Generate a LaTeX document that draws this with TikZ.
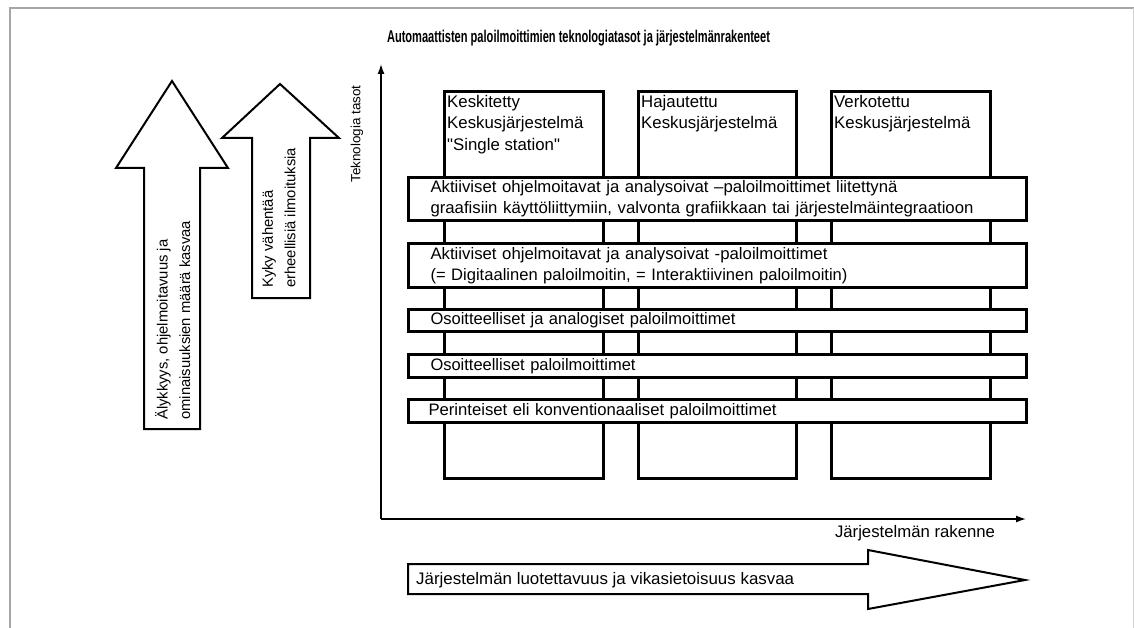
\documentclass[tikz,border=0pt]{standalone}
\usepackage{fontspec}
\setmainfont{Liberation Sans}
% a second family without TeX ligatures, so that " stays a straight quote
\newfontfamily\plainsans{Liberation Sans}
\usetikzlibrary{arrows.meta}

% set a line of text to a given width, keeping its height
\newcommand\fitline[2]{\resizebox{#1}{\height}{#2}}

\begin{document}
\begin{tikzpicture}[x=1pt,y=-1pt,
  heavy/.style={draw=black, line width=3pt, fill=white},
  colbox/.style={heavy, rectangle, inner sep=0pt, anchor=north west, minimum height=387pt},
  headtext/.style={anchor=north west, inner sep=0pt, align=left, font=\plainsans\fontsize{16.8}{21.5}\selectfont},
  barbox/.style={heavy, rectangle, anchor=north west, inner xsep=22pt, inner ysep=0pt,
                 text width=574pt, align=left, font=\fontsize{16.6}{21}\selectfont},
  axis/.style={draw=black, line width=1.4pt, -{Latex[length=10pt,width=7pt]}},
  bigarrow/.style={draw=black, line width=2pt, fill=white, line join=miter},
  arrowtext/.style={inner sep=0pt, align=left, font=\fontsize{14.8}{22.5}\selectfont},
  label/.style={inner sep=0pt, font=\fontsize{16.7}{20}\selectfont}]

\useasboundingbox (0,0) rectangle (1134,628);

% outer frame
\draw[gray!70, line width=1.5pt] (10,628) -- (10,8) -- (1134,8);
\draw[gray!35, line width=1pt] (1133,8) -- (1133,628);

% title
\node[anchor=base, inner sep=0pt, font=\bfseries\fontsize{17}{19}\selectfont] (title) at (578.5,43)
  {\fitline{383pt}{Automaattisten paloilmoittimien teknologiatasot ja järjestelmänrakenteet}};

% axes
\coordinate (org) at (381,519);
\coordinate (ytip) at (381,64);
\coordinate (xtip) at (1026,519);
\draw[axis] (org) -- (ytip);
\draw[axis] (org) -- (xtip);
\node[inner sep=0pt, rotate=90, font=\fontsize{13.3}{16}\selectfont] (ylab) at (357,134) {\fitline{97pt}{Teknologia tasot}};
\node[label] (xlab) at (915,533) {\fitline{160pt}{Järjestelmän rakenne}};

% system structure columns
\node[colbox, minimum width=159pt] (c1) at (443,90) {};
\node[colbox, minimum width=158pt] (c2) at (637,90) {};
\node[colbox, minimum width=159pt] (c3) at (830,90) {};
\node[headtext] (h1) at (447,95) {Keskitetty\\Keskusjärjestelmä\\"Single station"};
\node[headtext] (h2) at (641,95) {Hajautettu\\Keskusjärjestelmä};
\node[headtext] (h3) at (834,95) {Verkotettu\\Keskusjärjestelmä};

% technology level bars
\node[barbox, minimum height=43pt] (b1) at (407,176)
  {\fitline{467pt}{Aktiiviset ohjelmoitavat ja analysoivat –paloilmoittimet liitettynä}\\
   \fitline{543pt}{graafisiin käyttöliittymiin, valvonta grafiikkaan tai järjestelmäintegraatioon}};
\node[barbox, minimum height=44pt] (b2) at (407,242)
  {\fitline{397pt}{Aktiiviset ohjelmoitavat ja analysoivat -paloilmoittimet}\\
   \fitline{417pt}{(= Digitaalinen paloilmoitin, = Interaktiivinen paloilmoitin)}};
\node[barbox, minimum height=22pt] (b3) at (407,308) {\fitline{305pt}{Osoitteelliset ja analogiset paloilmoittimet}};
\node[barbox, minimum height=23pt] (b4) at (407,353) {\fitline{205pt}{Osoitteelliset paloilmoittimet}};
\node[barbox, minimum height=23pt, inner xsep=20pt, text width=578pt] (b5) at (407,398)
  {\fitline{348pt}{Perinteiset eli konventionaaliset paloilmoittimet}};

% block arrows on the left
\draw[bigarrow] (144,429) -- (144,168) -- (116,168) -- (172,81) -- (228,168) -- (200,168) -- (200,429) -- cycle;
\node[arrowtext, rotate=90, anchor=north west] (t1) at (155,420)
  {Älykkyys, ohjelmoitavuus ja\\ominaisuuksien määrä kasvaa};
\draw[bigarrow] (252,298) -- (252,138) -- (222,138) -- (280,84) -- (339,138) -- (310,138) -- (310,298) -- cycle;
\node[arrowtext, rotate=90, anchor=north west] (t2) at (262,288)
  {Kyky vähentää\\erheellisiä ilmoituksia};

% block arrow at the bottom
\draw[bigarrow] (408,564) -- (868,564) -- (868,550) -- (1025,580) -- (868,609) -- (868,594) -- (408,594) -- cycle;
\node[label, anchor=west] (t3) at (416,580) {\fitline{378pt}{Järjestelmän luotettavuus ja vikasietoisuus kasvaa}};

\end{tikzpicture}
\end{document}
